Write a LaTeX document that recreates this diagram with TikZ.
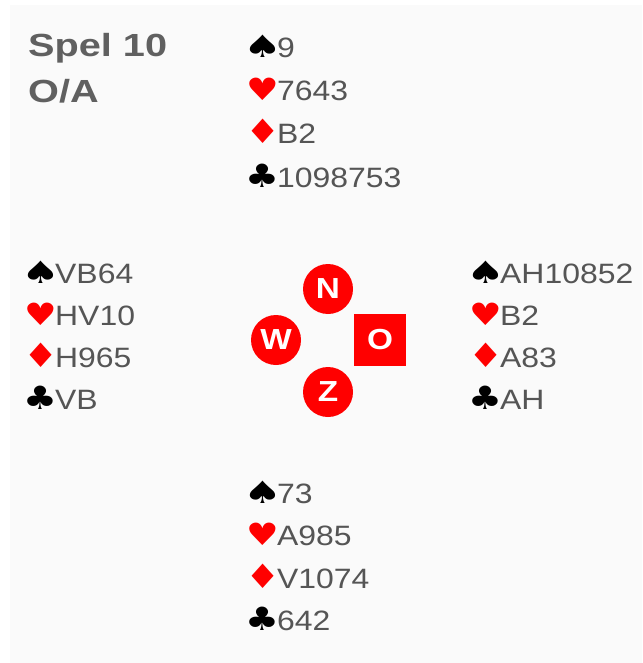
\documentclass[tikz,border=0pt]{standalone}
\usepackage{fontspec}
\usepackage{graphicx}
\setmainfont{Liberation Sans}
\newfontfamily\suitfont{DejaVu Sans}
\usepackage{tikz}
\usetikzlibrary{positioning}

\definecolor{cardred}{HTML}{FF0000}
\definecolor{textgray}{HTML}{555555}
\definecolor{titlegray}{HTML}{606060}
\definecolor{paper}{HTML}{FAFAFA}

% suit symbols, wide as in the original, centred in a box of fixed width
\newcommand{\suitmark}[4]{\makebox[27pt][c]{{\suitfont\color{#1}\scalebox{#2}[#3]{#4}}}}
\newcommand{\suitS}{\suitmark{black}{1.55}{1.1}{♠}}
\newcommand{\suitH}{\suitmark{cardred}{1.3}{1.1}{♥}}
\newcommand{\suitD}{\suitmark{cardred}{1.4}{1.2}{♦}}
\newcommand{\suitC}{\suitmark{black}{1.35}{1.15}{♣}}
% one row of a hand: suit + cards
\newcommand{\cards}[2]{#1\kern1pt\scalebox{1.14}[1]{#2}}
\newcommand{\wide}[2]{\scalebox{#1}[1]{#2}}

\tikzset{
    hand/.style={anchor=base west, inner sep=0pt, text=textgray,
        font=\fontsize{28}{32}\selectfont},
    title/.style={anchor=base west, inner sep=0pt, text=titlegray,
        font=\fontsize{32}{36}\selectfont\bfseries},
    seat/.style={fill=cardred, text=white, inner sep=0pt,
        font=\fontsize{29}{30}\selectfont\bfseries},
}

\begin{document}
\begin{tikzpicture}[x=1pt, y=-1pt]
    \useasboundingbox (0,0) rectangle (642,663);
    \fill[white] (0,0) rectangle (642,663);
    \fill[paper] (10,5) rectangle (642,663);

    % deal number and vulnerability
    \node[title] (spel) at (28,57) {\wide{1.24}{Spel 10}};
    \node[title] (vuln) at (28,103) {\wide{1.24}{O/A}};

    % North
    \node[hand] (n1) at (249,58)  {\cards{\suitS}{9}};
    \node[hand] (n2) at (249,101) {\cards{\suitH}{7643}};
    \node[hand] (n3) at (249,144) {\cards{\suitD}{B2}};
    \node[hand] (n4) at (249,187) {\cards{\suitC}{1098753}};

    % West
    \node[hand] (w1) at (27,283) {\cards{\suitS}{VB64}};
    \node[hand] (w2) at (27,325) {\cards{\suitH}{HV10}};
    \node[hand] (w3) at (27,367) {\cards{\suitD}{H965}};
    \node[hand] (w4) at (27,409) {\cards{\suitC}{VB}};

    % East
    \node[hand] (e1) at (472,283) {\cards{\suitS}{AH10852}};
    \node[hand] (e2) at (472,325) {\cards{\suitH}{B2}};
    \node[hand] (e3) at (472,367) {\cards{\suitD}{A83}};
    \node[hand] (e4) at (472,409) {\cards{\suitC}{AH}};

    % South
    \node[hand] (s1) at (249,503) {\cards{\suitS}{73}};
    \node[hand] (s2) at (249,545) {\cards{\suitH}{A985}};
    \node[hand] (s3) at (249,588) {\cards{\suitD}{V1074}};
    \node[hand] (s4) at (249,630) {\cards{\suitC}{642}};

    % compass, dealer (O) as square
    \node[seat, circle, minimum size=50pt] (north) at (328,289) {\wide{1.15}{N}};
    \node[seat, circle, minimum size=50pt] (west)  at (276,340) {\wide{1.15}{W}};
    \node[seat, circle, minimum size=50pt] (south) at (328,392) {\wide{1.15}{Z}};
    \node[seat, minimum size=52pt]         (east)  at (380,340) {\wide{1.15}{O}};
\end{tikzpicture}
\end{document}
